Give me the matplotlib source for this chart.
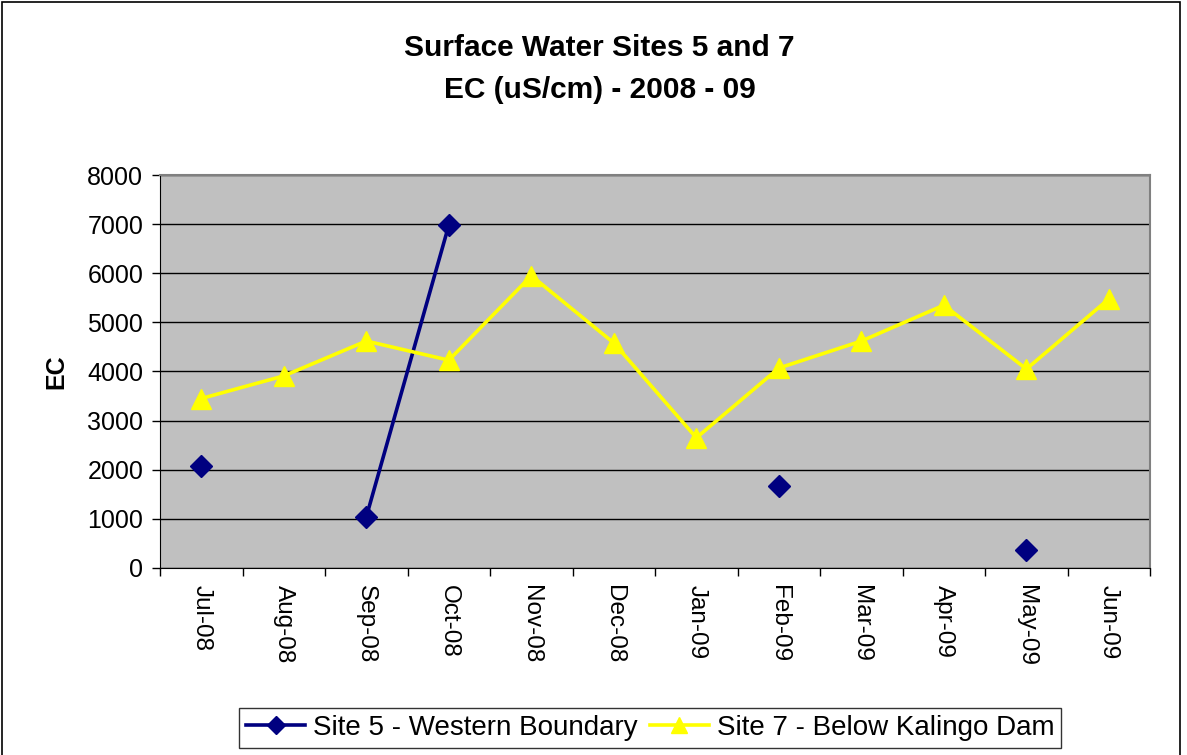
import numpy as np
import matplotlib
matplotlib.use("Agg")
import matplotlib.pyplot as plt
from matplotlib.patches import Rectangle

plt.rcParams['font.family'] = ['Liberation Sans', 'DejaVu Sans']

months = ['Jul-08', 'Aug-08', 'Sep-08', 'Oct-08', 'Nov-08', 'Dec-08',
          'Jan-09', 'Feb-09', 'Mar-09', 'Apr-09', 'May-09', 'Jun-09']
site5 = [2080, np.nan, 1040, 6980, np.nan, np.nan,
         np.nan, 1670, np.nan, np.nan, 370, np.nan]
site7 = [3450, 3910, 4620, 4230, 5950, 4580,
         2650, 4070, 4620, 5350, 4050, 5480]

fig = plt.figure(figsize=(11.87, 7.55), dpi=100)
ax = fig.add_axes([0.1348, 0.2477, 0.969 - 0.1348, 0.7682 - 0.2477])

# outer chart border
fig.patches.append(Rectangle((0.002, -0.01), 0.992, 1.007, transform=fig.transFigure,
                             fill=False, edgecolor='black', linewidth=1.2))

x = np.arange(len(months))
ax.set_facecolor('#C0C0C0')
ax.plot(x, site5, color='#000080', marker='D', markersize=11, linewidth=2.6,
        label='Site 5 - Western Boundary')
ax.plot(x, site7, color='#FFFF00', marker='^', markersize=15, linewidth=2.6,
        label='Site 7 - Below Kalingo Dam')

ax.set_xlim(-0.5, len(months) - 0.5)
ax.set_ylim(0, 8000)
ax.set_yticks(range(0, 8001, 1000))
ax.yaxis.grid(True, color='black', linewidth=1)
ax.set_axisbelow(True)

ax.set_xticks(x)
ax.set_xticklabels(months, rotation=270, fontsize=17.5)
ax.set_xticks(np.arange(-0.5, len(months)), minor=True)
ax.tick_params(axis='x', which='major', length=0, pad=12)
ax.tick_params(axis='x', which='minor', length=6, direction='out', width=1)
ax.tick_params(axis='y', length=6, direction='out', labelsize=18, width=1, pad=6)

for s in ['top', 'right']:
    ax.spines[s].set_color('#808080')
    ax.spines[s].set_linewidth(1.5)
for s in ['left', 'bottom']:
    ax.spines[s].set_color('black')

ax.set_ylabel('EC', fontsize=18, fontweight='bold', labelpad=14)
fig.text(0.505, 0.936, 'Surface Water Sites 5 and 7', ha='center', va='center',
         fontsize=21.5, fontweight='bold')
fig.text(0.505, 0.881, 'EC (uS/cm) - 2008 - 09', ha='center', va='center',
         fontsize=21.5, fontweight='bold')

leg = fig.legend(loc='center', bbox_to_anchor=(0.548, 0.036), ncol=2,
                 fontsize=20, frameon=True, fancybox=False, edgecolor='black',
                 handlelength=2.1, handletextpad=0.3, columnspacing=0.45,
                 borderpad=0.25, markerscale=0.8)
leg.get_frame().set_linewidth(1)

fig.savefig('out.png', dpi=100)
